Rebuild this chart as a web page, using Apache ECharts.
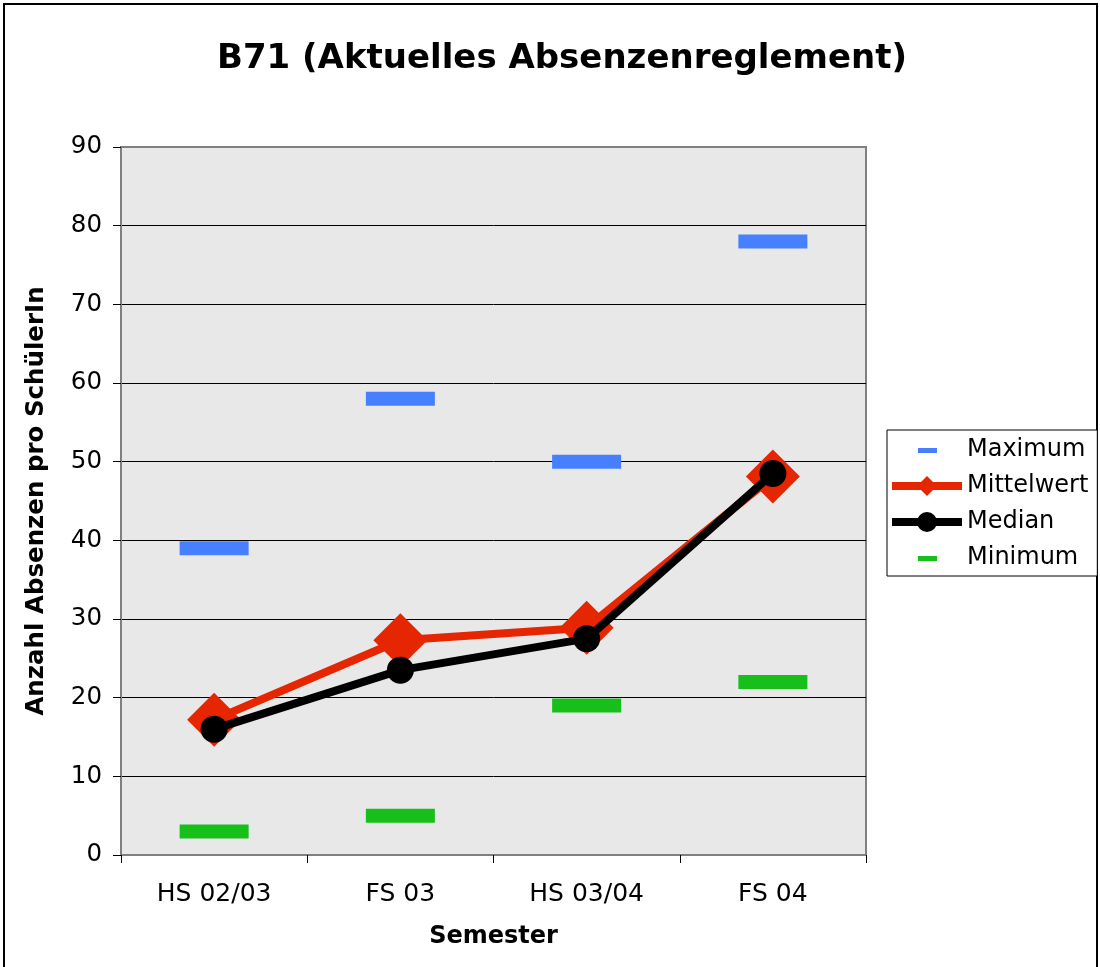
<!DOCTYPE html>
<html>
<head>
<meta charset="utf-8">
<script src="https://cdn.jsdelivr.net/npm/echarts@6/dist/echarts.min.js"></script>
<style>
    html, body {margin: 0; padding: 0; background: #fff;}
    #chart {width: 1100px; height: 967px;}
</style>
</head>
<body>
<div id="chart"></div>
<script>
// Semester
let categories = ['HS 02/03', 'FS 03', 'HS 03/04', 'FS 04']

// Absenzen pro SchülerIn
let maximum = [39, 58, 50, 78]
let mittelwert = [17.2, 27.3, 28.9, 48.1]
let median = [16, 23.5, 27.5, 48.5]
let minimum = [3, 5, 19, 22]

let font = 'DejaVu Sans'

// kleiner Strich als Legendensymbol (unsichtbare Punkte halten die Box offen)
let dashIcon = 'path://M0 0M70 24M26 10h19v5h-19z'

let chart = echarts.init(document.getElementById('chart'), null, {renderer: 'canvas'})

chart.setOption({
    animation: false,
    backgroundColor: '#fff',
    textStyle: {fontFamily: font, color: '#000'},
    title: {
        text: 'B71 (Aktuelles Absenzenreglement)',
        left: 557,
        textAlign: 'center',
        top: 37,
        textStyle: {fontFamily: font, fontSize: 34, fontWeight: 'bold', color: '#000'}
    },
    graphic: [{
        type: 'rect',
        shape: {x: 4, y: 4, width: 1093, height: 1000},
        style: {fill: null, stroke: '#000', lineWidth: 2},
        silent: true
    }],
    legend: {
        orient: 'vertical',
        left: 887,
        top: 430,
        align: 'left',
        padding: [8, 9, 6, 1],
        itemGap: 12,
        itemWidth: 70,
        itemHeight: 25,
        borderColor: '#000',
        borderWidth: 1,
        backgroundColor: '#fff',
        textStyle: {fontFamily: font, fontSize: 24, color: '#000'},
        data: [
            {name: 'Maximum', icon: dashIcon},
            {name: 'Mittelwert', lineStyle: {width: 8}},
            {name: 'Median', lineStyle: {width: 8}},
            {name: 'Minimum', icon: dashIcon}
        ]
    },
    grid: {
        left: 121,
        top: 147,
        width: 745,
        height: 708,
        show: true,
        backgroundColor: '#e8e8e8',
        borderColor: '#808080',
        borderWidth: 2
    },
    xAxis: {
        type: 'category',
        data: categories,
        name: 'Semester',
        nameLocation: 'middle',
        nameGap: 70,
        nameTextStyle: {fontFamily: font, fontSize: 24, fontWeight: 'bold', color: '#000'},
        axisLine: {lineStyle: {color: '#808080', width: 2}},
        axisTick: {show: true, length: 8, lineStyle: {color: '#000', width: 1}},
        axisLabel: {fontFamily: font, fontSize: 25, color: '#000', margin: 27},
        splitLine: {show: false}
    },
    yAxis: {
        type: 'value',
        min: 0,
        max: 90,
        interval: 10,
        name: 'Anzahl Absenzen pro SchülerIn',
        nameLocation: 'middle',
        nameGap: 72,
        nameTextStyle: {fontFamily: font, fontSize: 24.5, fontWeight: 'bold', color: '#000'},
        axisLine: {show: true, lineStyle: {color: '#808080', width: 2}},
        axisTick: {show: true, length: 8, lineStyle: {color: '#000', width: 1}},
        axisLabel: {fontFamily: font, fontSize: 24.5, color: '#000', margin: 19},
        splitLine: {show: true, showMinLine: false, showMaxLine: false, lineStyle: {color: '#000', width: 1}}
    },
    series: [
        {
            name: 'Maximum',
            type: 'scatter',
            data: maximum,
            symbol: 'rect',
            symbolSize: [69, 14],
            itemStyle: {color: '#4680ff', opacity: 1},
            z: 3
        },
        {
            name: 'Mittelwert',
            type: 'line',
            data: mittelwert,
            symbol: 'diamond',
            symbolSize: 54,
            showAllSymbol: true,
            lineStyle: {color: '#e52600', width: 8},
            itemStyle: {color: '#e52600'},
            z: 4
        },
        {
            name: 'Median',
            type: 'line',
            data: median,
            symbol: 'circle',
            symbolSize: 27,
            showAllSymbol: true,
            lineStyle: {color: '#000', width: 8},
            itemStyle: {color: '#000'},
            z: 5
        },
        {
            name: 'Minimum',
            type: 'scatter',
            data: minimum,
            symbol: 'rect',
            symbolSize: [69, 14],
            itemStyle: {color: '#17bf1a', opacity: 1},
            z: 3
        }
    ]
})
</script>
</body>
</html>
